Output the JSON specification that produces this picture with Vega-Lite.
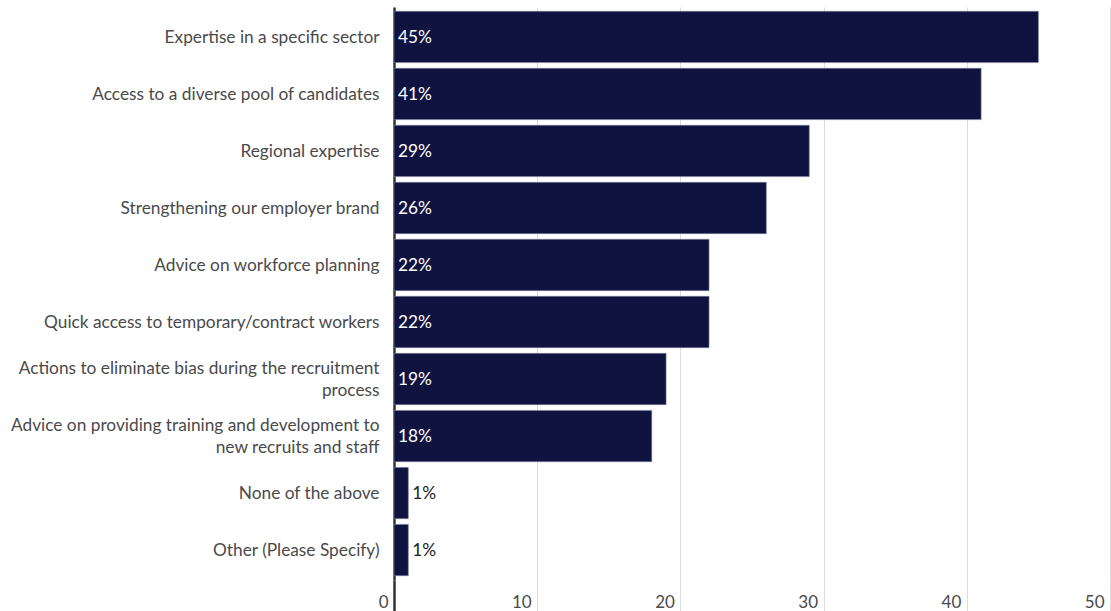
{
  "$schema": "https://vega.github.io/schema/vega-lite/v6.json",
  "width": 716,
  "height": 573,
  "autosize": {"type": "none"},
  "padding": {"left": 394, "top": 7, "right": 1, "bottom": 31},
  "background": "white",
  "config": {
    "view": {"stroke": null},
    "font": "Lato",
    "axis": {"labelFont": "Lato", "titleFont": "Lato"}
  },
  "data": {
    "values": [
      {"category": "Expertise in a specific sector", "value": 45, "pct": "45%"},
      {"category": "Access to a diverse pool of candidates", "value": 41, "pct": "41%"},
      {"category": "Regional expertise", "value": 29, "pct": "29%"},
      {"category": "Strengthening our employer brand", "value": 26, "pct": "26%"},
      {"category": "Advice on workforce planning", "value": 22, "pct": "22%"},
      {"category": "Quick access to temporary/contract workers", "value": 22, "pct": "22%"},
      {"category": "Actions to eliminate bias during the recruitment|process", "value": 19, "pct": "19%"},
      {"category": "Advice on providing training and development to|new recruits and staff", "value": 18, "pct": "18%"},
      {"category": "None of the above", "value": 1, "pct": "1%"},
      {"category": "Other (Please Specify)", "value": 1, "pct": "1%"}
    ]
  },
  "encoding": {
    "y": {
      "field": "category",
      "type": "nominal",
      "sort": null,
      "title": null,
      "scale": {"paddingInner": 0.1, "paddingOuter": 0.075},
      "axis": {
        "labelExpr": "split(datum.label, '|')",
        "labelFontSize": 17.3,
        "labelFontWeight": 400,
        "labelColor": "#4a4a4a",
        "labelLineHeight": 22,
        "labelPadding": 15,
        "labelLimit": 500,
        "labelOffset": {"condition": {"test": "indexof(datum.value, '|') >= 0", "value": -10}, "value": 1},
        "ticks": false,
        "domainColor": "#333333",
        "domainWidth": 2.5,
        "grid": false
      }
    }
  },
  "layer": [
    {
      "mark": {"type": "bar", "color": "#10133f", "stroke": "#7f82a0", "strokeWidth": 0.6},
      "encoding": {
        "x": {
          "field": "value",
          "type": "quantitative",
          "title": null,
          "scale": {"domain": [0, 50], "nice": false},
          "axis": {
            "values": [0, 10, 20, 30, 40, 50],
            "domain": false,
            "grid": true,
            "gridColor": "#dddddd",
            "gridWidth": 1,
            "tickSize": 31,
            "tickColor": {"condition": {"test": "datum.value === 0", "value": "#333333"}, "value": "#dddddd"},
            "tickWidth": {"condition": {"test": "datum.value === 0", "value": 2.5}, "value": 1},
            "labelFlush": false,
            "labelAlign": "right",
            "labelBaseline": "bottom",
            "labelPadding": 0,
            "labelOffset": -6,
            "labelFontSize": 17,
            "labelFontWeight": 400,
            "labelColor": "#4a4a4a"
          }
        }
      }
    },
    {
      "transform": [{"filter": "datum.value >= 5"}],
      "mark": {"type": "text", "align": "left", "baseline": "middle", "dx": 4, "dy": 1, "fontSize": 17.3, "color": "#ffffff"},
      "encoding": {
        "x": {"datum": 0, "type": "quantitative"},
        "text": {"field": "pct"}
      }
    },
    {
      "transform": [{"filter": "datum.value < 5"}],
      "mark": {"type": "text", "align": "left", "baseline": "middle", "dx": 4, "dy": 1, "fontSize": 17.3, "color": "#222222"},
      "encoding": {
        "x": {"field": "value", "type": "quantitative"},
        "text": {"field": "pct"}
      }
    }
  ]
}
